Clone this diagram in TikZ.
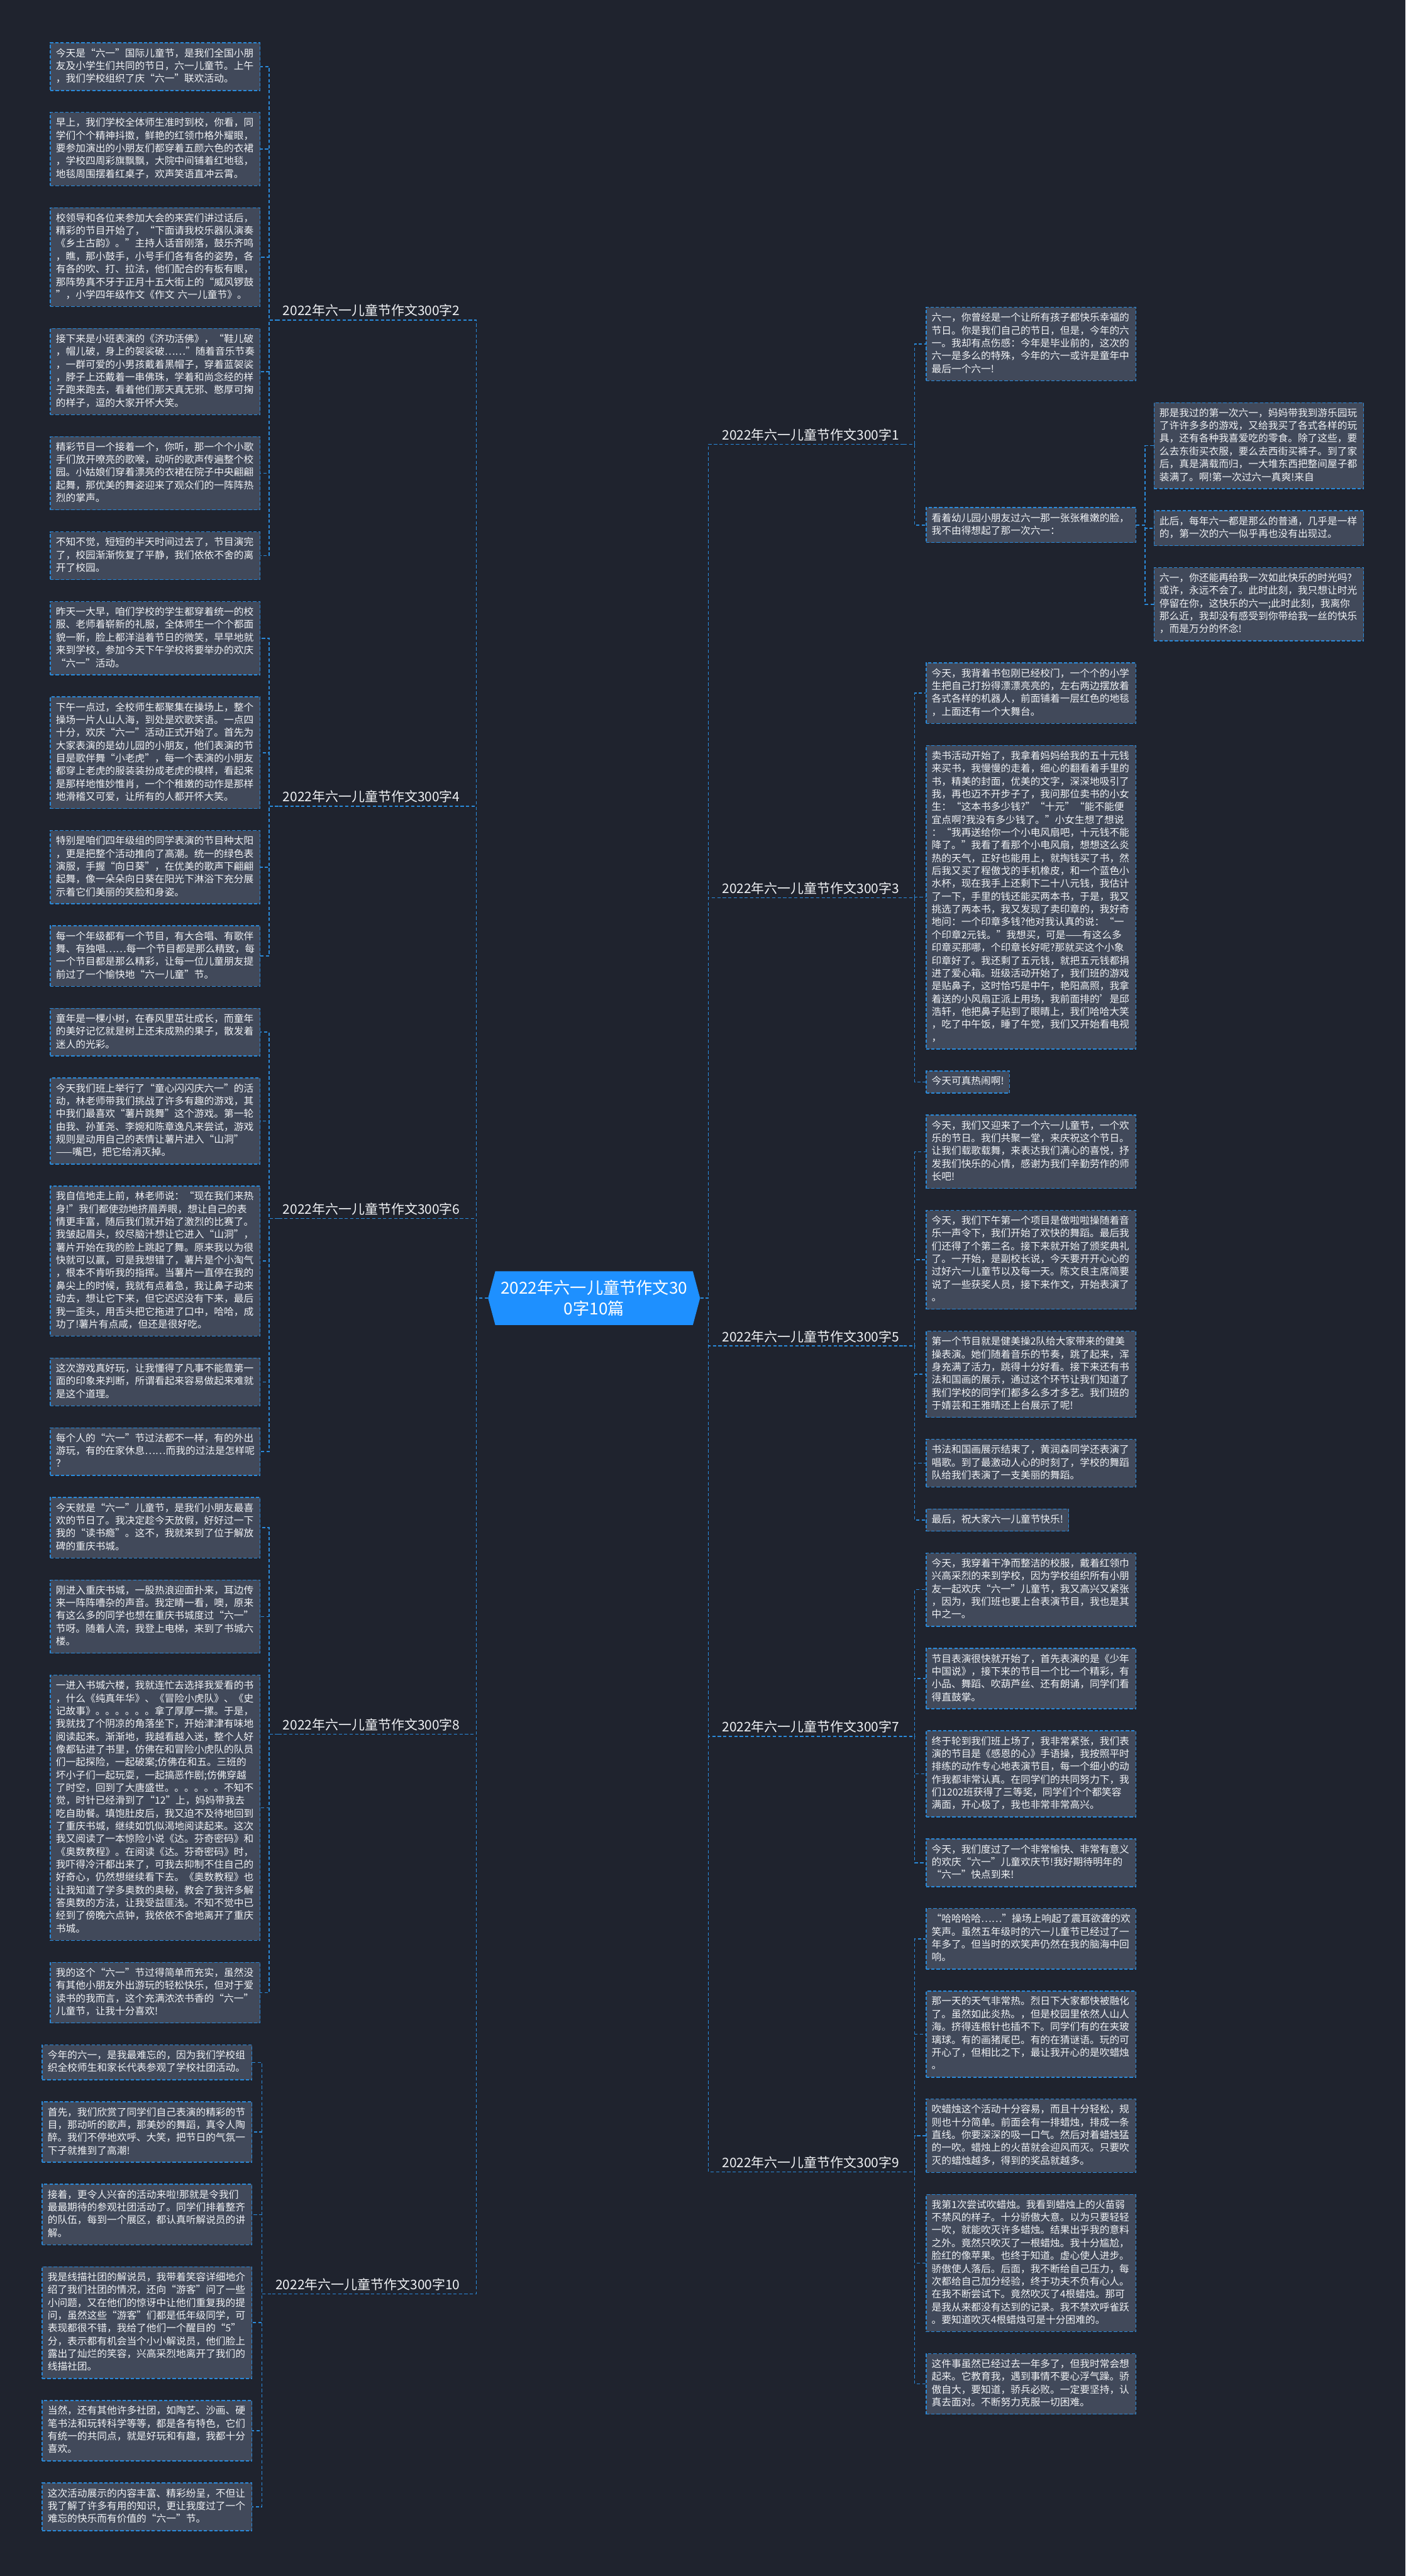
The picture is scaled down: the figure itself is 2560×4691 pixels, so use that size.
\documentclass[tikz,border=0pt]{standalone}
\usepackage{fontspec}
\setmainfont{Noto Sans CJK SC}
\usetikzlibrary{shapes.symbols}
\definecolor{bgnavy}{RGB}{31,35,46}
\definecolor{cardfill}{RGB}{65,73,90}
\definecolor{edgeblue}{RGB}{42,138,218}
\definecolor{hubblue}{RGB}{30,144,255}
\definecolor{inkwhite}{RGB}{240,242,245}
\newcommand\cardstrut{\rule[-5pt]{0pt}{18.3pt}}
\begin{document}
\begin{tikzpicture}[x=1pt,y=-1pt,
  cardbase/.style={draw=edgeblue,line width=1.6pt,dash pattern=on 6pt off 3.5pt,fill=cardfill,text=inkwhite,align=left,inner xsep=10pt,inner ysep=10pt,font=\fontsize{18}{23.3}\selectfont,execute at begin node=\cardstrut,execute at end node=\cardstrut},
  card/.style={cardbase,text width=362pt,anchor=north west},
  shortcard/.style={cardbase,anchor=north west},
  tag/.style={text=inkwhite,font=\fontsize{24}{28}\selectfont,inner xsep=8pt,inner ysep=6pt},
  hub/.style={signal,signal to=west and east,signal pointer angle=150,fill=hubblue,text=white,align=center,font=\fontsize{30}{38}\selectfont,inner xsep=10pt,inner ysep=16pt},
  link/.style={draw=edgeblue,line width=1.6pt,dash pattern=on 6pt off 4pt}]
\fill[bgnavy] (0,0) rectangle (2560,4691);
\useasboundingbox (0,0) rectangle (2560,4691);

\node[hub] (root) at (1082,2364) {2022年六一儿童节作文30\\0字10篇};

\node[tag,anchor=south west] (b1) at (1307,809) {2022年六一儿童节作文300字1};
\node[tag,anchor=south east] (b2) at (846,583) {2022年六一儿童节作文300字2};
\node[tag,anchor=south west] (b3) at (1307,1635) {2022年六一儿童节作文300字3};
\node[tag,anchor=south east] (b4) at (846,1468) {2022年六一儿童节作文300字4};
\node[tag,anchor=south west] (b5) at (1307,2451) {2022年六一儿童节作文300字5};
\node[tag,anchor=south east] (b6) at (846,2219) {2022年六一儿童节作文300字6};
\node[tag,anchor=south west] (b7) at (1307,3162) {2022年六一儿童节作文300字7};
\node[tag,anchor=south east] (b8) at (846,3158) {2022年六一儿童节作文300字8};
\node[tag,anchor=south west] (b9) at (1307,3955) {2022年六一儿童节作文300字9};
\node[tag,anchor=south east] (b10) at (846,4177) {2022年六一儿童节作文300字10};

\node[card] (l1) at (91,77) {今天是“六一”国际儿童节，是我们全国小朋\\友及小学生们共同的节日，六一儿童节。上午\\，我们学校组织了庆“六一”联欢活动。};
\node[card] (l2) at (91,203.9) {早上，我们学校全体师生准时到校，你看，同\\学们个个精神抖擞，鲜艳的红领巾格外耀眼，\\要参加演出的小朋友们都穿着五颜六色的衣裙\\，学校四周彩旗飘飘，大院中间铺着红地毯，\\地毯周围摆着红桌子，欢声笑语直冲云霄。};
\node[card] (l3) at (91,377.4) {校领导和各位来参加大会的来宾们讲过话后，\\精彩的节目开始了，“下面请我校乐器队演奏\\《乡土古韵》。”主持人话音刚落，鼓乐齐鸣\\，瞧，那小鼓手，小号手们各有各的姿势，各\\有各的吹、打、拉法，他们配合的有板有眼，\\那阵势真不牙于正月十五大街上的“威风锣鼓\\”，小学四年级作文《作文 六一儿童节》。};
\node[card] (l4) at (91,597.5) {接下来是小班表演的《济功活佛》，“鞋儿破\\，帽儿破，身上的袈裟破……”随着音乐节奏\\，一群可爱的小男孩戴着黑帽子，穿着蓝袈裟\\，脖子上还戴着一串佛珠，学着和尚念经的样\\子跑来跑去，看着他们那天真无邪、憨厚可掬\\的样子，逗的大家开怀大笑。};
\node[card] (l5) at (91,794.3) {精彩节目一个接着一个，你听，那一个个小歌\\手们放开嘹亮的歌喉，动听的歌声传遍整个校\\园。小姑娘们穿着漂亮的衣裙在院子中央翩翩\\起舞，那优美的舞姿迎来了观众们的一阵阵热\\烈的掌声。};
\node[card] (l6) at (91,967.8) {不知不觉，短短的半天时间过去了，节目演完\\了，校园渐渐恢复了平静，我们依依不舍的离\\开了校园。};
\node[card] (l7) at (91,1094.7) {昨天一大早，咱们学校的学生都穿着统一的校\\服、老师着崭新的礼服，全体师生一个个都面\\貌一新，脸上都洋溢着节日的微笑，早早地就\\来到学校，参加今天下午学校将要举办的欢庆\\“六一”活动。};
\node[card] (l8) at (91,1268.2) {下午一点过，全校师生都聚集在操场上，整个\\操场一片人山人海，到处是欢歌笑语。一点四\\十分，欢庆“六一”活动正式开始了。首先为\\大家表演的是幼儿园的小朋友，他们表演的节\\目是歌伴舞“小老虎”，每一个表演的小朋友\\都穿上老虎的服装装扮成老虎的模样，看起来\\是那样地惟妙惟肖，一个个稚嫩的动作是那样\\地滑稽又可爱，让所有的人都开怀大笑。};
\node[card] (l9) at (91,1511.6) {特别是咱们四年级组的同学表演的节目种太阳\\，更是把整个活动推向了高潮。统一的绿色表\\演服，手握“向日葵”，在优美的歌声下翩翩\\起舞，像一朵朵向日葵在阳光下淋浴下充分展\\示着它们美丽的笑脸和身姿。};
\node[card] (l10) at (91,1685.1) {每一个年级都有一个节目，有大合唱、有歌伴\\舞、有独唱……每一个节目都是那么精致，每\\一个节目都是那么精彩，让每一位儿童朋友提\\前过了一个愉快地“六一儿童”节。};
\node[card] (l11) at (91,1835.3) {童年是一棵小树，在春风里茁壮成长，而童年\\的美好记忆就是树上还未成熟的果子，散发着\\迷人的光彩。};
\node[card] (l12) at (91,1962.2) {今天我们班上举行了“童心闪闪庆六一”的活\\动，林老师带我们挑战了许多有趣的游戏，其\\中我们最喜欢“薯片跳舞”这个游戏。第一轮\\由我、孙堇尧、李婉和陈章逸凡来尝试，游戏\\规则是动用自己的表情让薯片进入“山洞”\\——嘴巴，把它给消灭掉。};
\node[card] (l13) at (91,2159) {我自信地走上前，林老师说：“现在我们来热\\身!”我们都使劲地挤眉弄眼，想让自己的表\\情更丰富，随后我们就开始了激烈的比赛了。\\我皱起眉头，绞尽脑汁想让它进入“山洞”，\\薯片开始在我的脸上跳起了舞。原来我以为很\\快就可以赢，可是我想错了，薯片是个小淘气\\，根本不肯听我的指挥。当薯片一直停在我的\\鼻尖上的时候，我就有点着急，我让鼻子动来\\动去，想让它下来，但它迟迟没有下来，最后\\我一歪头，用舌头把它拖进了口中，哈哈，成\\功了!薯片有点咸，但还是很好吃。};
\node[card] (l14) at (91,2472.3) {这次游戏真好玩，让我懂得了凡事不能靠第一\\面的印象来判断，所谓看起来容易做起来难就\\是这个道理。};
\node[card] (l15) at (91,2599.2) {每个人的“六一”节过法都不一样，有的外出\\游玩，有的在家休息……而我的过法是怎样呢\\？};
\node[card] (l16) at (91,2726.1) {今天就是“六一”儿童节，是我们小朋友最喜\\欢的节日了。我决定趁今天放假，好好过一下\\我的“读书瘾”。这不，我就来到了位于解放\\碑的重庆书城。};
\node[card] (l17) at (91,2876.3) {刚进入重庆书城，一股热浪迎面扑来，耳边传\\来一阵阵嘈杂的声音。我定睛一看，噢，原来\\有这么多的同学也想在重庆书城度过“六一”\\节呀。随着人流，我登上电梯，来到了书城六\\楼。};
\node[card] (l18) at (91,3049.8) {一进入书城六楼，我就连忙去选择我爱看的书\\，什么《纯真年华》、《冒险小虎队》、《史\\记故事》。。。。。。拿了厚厚一摞。于是，\\我就找了个阴凉的角落坐下，开始津津有味地\\阅读起来。渐渐地，我越看越入迷，整个人好\\像都钻进了书里，仿佛在和冒险小虎队的队员\\们一起探险，一起破案;仿佛在和五。三班的\\坏小子们一起玩耍，一起搞恶作剧;仿佛穿越\\了时空，回到了大唐盛世。。。。。。不知不\\觉，时针已经滑到了“12”上，妈妈带我去\\吃自助餐。填饱肚皮后，我又迫不及待地回到\\了重庆书城，继续如饥似渴地阅读起来。这次\\我又阅读了一本惊险小说《达。芬奇密码》和\\《奥数教程》。在阅读《达。芬奇密码》时，\\我吓得冷汗都出来了，可我去抑制不住自己的\\好奇心，仍然想继续看下去。《奥数教程》也\\让我知道了学多奥数的奥秘，教会了我许多解\\答奥数的方法，让我受益匪浅。不知不觉中已\\经到了傍晚六点钟，我依依不舍地离开了重庆\\书城。};
\node[card] (l19) at (91,3572.8) {我的这个“六一”节过得简单而充实，虽然没\\有其他小朋友外出游玩的轻松快乐，但对于爱\\读书的我而言，这个充满浓浓书香的“六一”\\儿童节，让我十分喜欢!};
\node[card] (l20) at (76,3723) {今年的六一，是我最难忘的，因为我们学校组\\织全校师生和家长代表参观了学校社团活动。};
\node[card] (l21) at (76,3826.6) {首先，我们欣赏了同学们自己表演的精彩的节\\目，那动听的歌声，那美妙的舞蹈，真令人陶\\醉。我们不停地欢呼、大笑，把节日的气氛一\\下子就推到了高潮!};
\node[card] (l22) at (76,3976.8) {接着，更令人兴奋的活动来啦!那就是令我们\\最最期待的参观社团活动了。同学们排着整齐\\的队伍，每到一个展区，都认真听解说员的讲\\解。};
\node[card] (l23) at (76,4127) {我是线描社团的解说员，我带着笑容详细地介\\绍了我们社团的情况，还向“游客”问了一些\\小问题，又在他们的惊讶中让他们重复我的提\\问，虽然这些“游客”们都是低年级同学，可\\表现都很不错，我给了他们一个醒目的“5”\\分，表示都有机会当个小小解说员，他们脸上\\露出了灿烂的笑容，兴高采烈地离开了我们的\\线描社团。};
\node[card] (l24) at (76,4370.4) {当然，还有其他许多社团，如陶艺、沙画、硬\\笔书法和玩转科学等等，都是各有特色，它们\\有统一的共同点，就是好玩和有趣，我都十分\\喜欢。};
\node[card] (l25) at (76,4520.6) {这次活动展示的内容丰富、精彩纷呈，不但让\\我了解了许多有用的知识，更让我度过了一个\\难忘的快乐而有价值的“六一”节。};

\node[card] (r1) at (1686,559) {六一，你曾经是一个让所有孩子都快乐幸福的\\节日。你是我们自己的节日，但是，今年的六\\一。我却有点伤感：今年是毕业前的，这次的\\六一是多么的特殊，今年的六一或许是童年中\\最后一个六一!};
\node[card] (r2) at (1686,923.5) {看着幼儿园小朋友过六一那一张张稚嫩的脸，\\我不由得想起了那一次六一：};
\node[card] (f1) at (2101,732.5) {那是我过的第一次六一，妈妈带我到游乐园玩\\了许许多多的游戏，又给我买了各式各样的玩\\具，还有各种我喜爱吃的零食。除了这些，要\\么去东街买衣服，要么去西街买裤子。到了家\\后，真是满载而归，一大堆东西把整间屋子都\\装满了。啊!第一次过六一真爽!来自};
\node[card] (f2) at (2101,929.3) {此后，每年六一都是那么的普通，几乎是一样\\的，第一次的六一似乎再也没有出现过。};
\node[card] (f3) at (2101,1032.9) {六一，你还能再给我一次如此快乐的时光吗?\\或许，永远不会了。此时此刻，我只想让时光\\停留在你，这快乐的六一;此时此刻，我离你\\那么近，我却没有感受到你带给我一丝的快乐\\，而是万分的怀念!};
\node[card] (r3) at (1686,1206.4) {今天，我背着书包刚已经校门，一个个的小学\\生把自己打扮得漂漂亮亮的，左右两边摆放着\\各式各样的机器人，前面铺着一层红色的地毯\\，上面还有一个大舞台。};
\node[card] (r4) at (1686,1356.6) {卖书活动开始了，我拿着妈妈给我的五十元钱\\来买书，我慢慢的走着，细心的翻看着手里的\\书，精美的封面，优美的文字，深深地吸引了\\我，再也迈不开步子了，我问那位卖书的小女\\生：“这本书多少钱?”“十元”“能不能便\\宜点啊?我没有多少钱了。”小女生想了想说\\：“我再送给你一个小电风扇吧，十元钱不能\\降了。”我看了看那个小电风扇，想想这么炎\\热的天气，正好也能用上，就掏钱买了书，然\\后我又买了程傲戈的手机橡皮，和一个蓝色小\\水杯，现在我手上还剩下二十八元钱，我估计\\了一下，手里的钱还能买两本书，于是，我又\\挑选了两本书，我又发现了卖印章的，我好奇\\地问：一个印章多钱?他对我认真的说：“一\\个印章2元钱。”我想买，可是——有这么多\\印章买那哪，个印章长好呢?那就买这个小象\\印章好了。我还剩了五元钱，就把五元钱都捐\\进了爱心箱。班级活动开始了，我们班的游戏\\是贴鼻子，这时恰巧是中午，艳阳高照，我拿\\着送的小风扇正派上用场，我前面排的'是邱\\浩轩，他把鼻子贴到了眼睛上，我们哈哈大笑\\，吃了中午饭，睡了午觉，我们又开始看电视\\，};
\node[shortcard] (r5) at (1686,1949.5) {今天可真热闹啊!};
\node[card] (r6) at (1686,2029.8) {今天，我们又迎来了一个六一儿童节，一个欢\\乐的节日。我们共聚一堂，来庆祝这个节日。\\让我们载歌载舞，来表达我们满心的喜悦，抒\\发我们快乐的心情，感谢为我们辛勤劳作的师\\长吧!};
\node[card] (r7) at (1686,2203.3) {今天，我们下午第一个项目是做啦啦操随着音\\乐一声令下，我们开始了欢快的舞蹈。最后我\\们还得了个第二名。接下来就开始了颁奖典礼\\了。一开始，是副校长说，今天要开开心心的\\过好六一儿童节以及每一天。陈文良主席简要\\说了一些获奖人员，接下来作文，开始表演了\\。};
\node[card] (r8) at (1686,2423.4) {第一个节目就是健美操2队给大家带来的健美\\操表演。她们随着音乐的节奏，跳了起来，浑\\身充满了活力，跳得十分好看。接下来还有书\\法和国画的展示，通过这个环节让我们知道了\\我们学校的同学们都多么多才多艺。我们班的\\于婧芸和王雅晴还上台展示了呢!};
\node[card] (r9) at (1686,2620.2) {书法和国画展示结束了，黄润森同学还表演了\\唱歌。到了最激动人心的时刻了，学校的舞蹈\\队给我们表演了一支美丽的舞蹈。};
\node[shortcard] (r10) at (1686,2747.1) {最后，祝大家六一儿童节快乐!};
\node[card] (r11) at (1686,2827.4) {今天，我穿着干净而整洁的校服，戴着红领巾\\兴高采烈的来到学校，因为学校组织所有小朋\\友一起欢庆“六一”儿童节，我又高兴又紧张\\，因为，我们班也要上台表演节目，我也是其\\中之一。};
\node[card] (r12) at (1686,3000.9) {节目表演很快就开始了，首先表演的是《少年\\中国说》，接下来的节目一个比一个精彩，有\\小品、舞蹈、吹葫芦丝、还有朗诵，同学们看\\得直鼓掌。};
\node[card] (r13) at (1686,3151.1) {终于轮到我们班上场了，我非常紧张，我们表\\演的节目是《感恩的心》手语操，我按照平时\\排练的动作专心地表演节目，每一个细小的动\\作我都非常认真。在同学们的共同努力下，我\\们1202班获得了三等奖，同学们个个都笑容\\满面，开心极了，我也非常非常高兴。};
\node[card] (r14) at (1686,3347.9) {今天，我们度过了一个非常愉快、非常有意义\\的欢庆“六一”儿童欢庆节!我好期待明年的\\“六一”快点到来!};
\node[card] (r15) at (1686,3474.8) {“哈哈哈哈……”操场上响起了震耳欲聋的欢\\笑声。虽然五年级时的六一儿童节已经过了一\\年多了。但当时的欢笑声仍然在我的脑海中回\\响。};
\node[card] (r16) at (1686,3625) {那一天的天气非常热。烈日下大家都快被融化\\了。虽然如此炎热。，但是校园里依然人山人\\海。挤得连根针也插不下。同学们有的在夹玻\\璃球。有的画猪尾巴。有的在猜谜语。玩的可\\开心了，但相比之下，最让我开心的是吹蜡烛\\。};
\node[card] (r17) at (1686,3821.8) {吹蜡烛这个活动十分容易，而且十分轻松，规\\则也十分简单。前面会有一排蜡烛，排成一条\\直线。你要深深的吸一口气。然后对着蜡烛猛\\的一吹。蜡烛上的火苗就会迎风而灭。只要吹\\灭的蜡烛越多，得到的奖品就越多。};
\node[card] (r18) at (1686,3995.3) {我第1次尝试吹蜡烛。我看到蜡烛上的火苗弱\\不禁风的样子。十分骄傲大意。以为只要轻轻\\一吹，就能吹灭许多蜡烛。结果出乎我的意料\\之外。竟然只吹灭了一根蜡烛。我十分尴尬，\\脸红的像苹果。也终于知道。虚心使人进步。\\骄傲使人落后。后面，我不断给自己压力，每\\次都给自己加分经验，终于功夫不负有心人。\\在我不断尝试下。竟然吹灭了4根蜡烛。那可\\是我从来都没有达到的记录。我不禁欢呼雀跃\\。要知道吹灭4根蜡烛可是十分困难的。};
\node[card] (r19) at (1686,4285.3) {这件事虽然已经过去一年多了，但我时常会想\\起来。它教育我，遇到事情不要心浮气躁。骄\\傲自大，要知道，骄兵必败。一定要坚持，认\\真去面对。不断努力克服一切困难。};

\draw[link] (root.east) -- ++(15,0) |- (b1.south west) -- (b1.south east);
\draw[link] (root.east) -- ++(15,0) |- (b3.south west) -- (b3.south east);
\draw[link] (root.east) -- ++(15,0) |- (b5.south west) -- (b5.south east);
\draw[link] (root.east) -- ++(15,0) |- (b7.south west) -- (b7.south east);
\draw[link] (root.east) -- ++(15,0) |- (b9.south west) -- (b9.south east);
\draw[link] (root.west) -- ++(-21,0) |- (b2.south east) -- (b2.south west);
\draw[link] (root.west) -- ++(-21,0) |- (b4.south east) -- (b4.south west);
\draw[link] (root.west) -- ++(-21,0) |- (b6.south east) -- (b6.south west);
\draw[link] (root.west) -- ++(-21,0) |- (b8.south east) -- (b8.south west);
\draw[link] (root.west) -- ++(-21,0) |- (b10.south east) -- (b10.south west);

\draw[link] (b2.south west) -- ++(-17,0) |- (l1.east);
\draw[link] (b2.south west) -- ++(-17,0) |- (l2.east);
\draw[link] (b2.south west) -- ++(-17,0) |- (l3.east);
\draw[link] (b2.south west) -- ++(-17,0) |- (l4.east);
\draw[link] (b2.south west) -- ++(-17,0) |- (l5.east);
\draw[link] (b2.south west) -- ++(-17,0) |- (l6.east);
\draw[link] (b4.south west) -- ++(-17,0) |- (l7.east);
\draw[link] (b4.south west) -- ++(-17,0) |- (l8.east);
\draw[link] (b4.south west) -- ++(-17,0) |- (l9.east);
\draw[link] (b4.south west) -- ++(-17,0) |- (l10.east);
\draw[link] (b6.south west) -- ++(-17,0) |- (l11.east);
\draw[link] (b6.south west) -- ++(-17,0) |- (l12.east);
\draw[link] (b6.south west) -- ++(-17,0) |- (l13.east);
\draw[link] (b6.south west) -- ++(-17,0) |- (l14.east);
\draw[link] (b6.south west) -- ++(-17,0) |- (l15.east);
\draw[link] (b8.south west) -- ++(-17,0) |- (l16.east);
\draw[link] (b8.south west) -- ++(-17,0) |- (l17.east);
\draw[link] (b8.south west) -- ++(-17,0) |- (l18.east);
\draw[link] (b8.south west) -- ++(-17,0) |- (l19.east);
\draw[link] (b10.south west) -- ++(-17,0) |- (l20.east);
\draw[link] (b10.south west) -- ++(-17,0) |- (l21.east);
\draw[link] (b10.south west) -- ++(-17,0) |- (l22.east);
\draw[link] (b10.south west) -- ++(-17,0) |- (l23.east);
\draw[link] (b10.south west) -- ++(-17,0) |- (l24.east);
\draw[link] (b10.south west) -- ++(-17,0) |- (l25.east);

\draw[link] (b1.south east) -- ++(20,0) |- (r1.west);
\draw[link] (b1.south east) -- ++(20,0) |- (r2.west);
\draw[link] (r2.east) -- ++(16,0) |- (f1.west);
\draw[link] (r2.east) -- ++(16,0) |- (f2.west);
\draw[link] (r2.east) -- ++(16,0) |- (f3.west);
\draw[link] (b3.south east) -- ++(20,0) |- (r3.west);
\draw[link] (b3.south east) -- ++(20,0) |- (r4.west);
\draw[link] (b3.south east) -- ++(20,0) |- (r5.west);
\draw[link] (b5.south east) -- ++(20,0) |- (r6.west);
\draw[link] (b5.south east) -- ++(20,0) |- (r7.west);
\draw[link] (b5.south east) -- ++(20,0) |- (r8.west);
\draw[link] (b5.south east) -- ++(20,0) |- (r9.west);
\draw[link] (b5.south east) -- ++(20,0) |- (r10.west);
\draw[link] (b7.south east) -- ++(20,0) |- (r11.west);
\draw[link] (b7.south east) -- ++(20,0) |- (r12.west);
\draw[link] (b7.south east) -- ++(20,0) |- (r13.west);
\draw[link] (b7.south east) -- ++(20,0) |- (r14.west);
\draw[link] (b9.south east) -- ++(20,0) |- (r15.west);
\draw[link] (b9.south east) -- ++(20,0) |- (r16.west);
\draw[link] (b9.south east) -- ++(20,0) |- (r17.west);
\draw[link] (b9.south east) -- ++(20,0) |- (r18.west);
\draw[link] (b9.south east) -- ++(20,0) |- (r19.west);
\end{tikzpicture}
\end{document}
